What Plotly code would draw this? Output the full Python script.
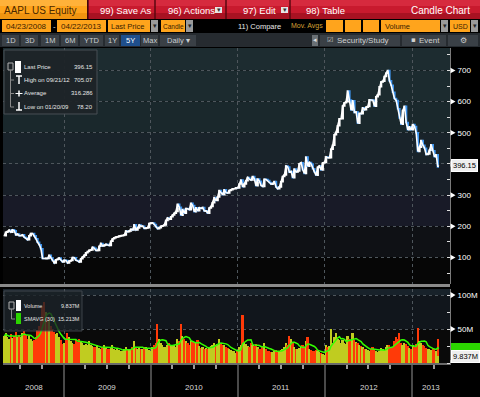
import pandas as pd
import plotly.graph_objects as go

W, H = 480, 397
HF = "Liberation Sans, Arial, sans-serif"

# ---------------- data (weekly closes) ----------------
close_2008 = [169.7, 180.9, 183.4, 187.6, 181.2, 188.8, 185.6, 172.4, 175.3, 170.1, 170.1, 172.6,
              165.2, 162.1, 156.7, 169.6, 176.8, 176.8, 169.5, 160.2, 148.9, 140.9, 128.2, 97.1,
              96.8, 97.4, 96.4, 107.6, 98.2, 90.2, 82.6, 92.7, 94.0, 98.3, 90.0, 85.8]
close_2009 = [90.8, 90.6, 82.3, 88.4, 90.1, 99.7, 99.2, 91.2, 89.3, 85.3, 95.9, 101.6, 106.9,
              115.0, 119.6, 123.4, 123.9, 132.5, 129.6, 122.4, 122.5, 135.8, 144.7, 137.0, 139.5,
              142.4, 140.0, 138.5, 151.8, 160.0, 163.4, 165.5, 166.8, 169.2, 170.1, 170.3, 172.2,
              185.0, 182.4, 184.9, 190.5, 188.1, 204.9, 188.5, 194.3, 204.5, 199.9, 200.6, 193.3,
              194.7, 195.4, 209.0, 210.7]
close_2010 = [211.0, 205.9, 197.9, 192.1, 195.5, 200.4, 201.7, 204.6, 219.0, 226.6, 222.3, 230.9,
              236.0, 241.8, 247.4, 270.8, 261.1, 235.9, 253.8, 242.3, 256.9, 256.0, 253.5, 274.1,
              266.7, 246.9, 259.6, 249.9, 259.9, 257.3, 260.1, 249.1, 249.6, 241.6, 258.8, 263.4,
              275.4, 292.3, 282.5, 294.1, 314.7, 307.5, 301.0, 317.1, 308.0, 306.7, 315.0, 317.4,
              320.6, 320.6, 323.6, 322.6]
close_2011 = [336.1, 348.5, 326.7, 336.1, 346.5, 356.9, 350.6, 348.2, 360.0, 352.0, 330.0, 351.5,
              344.6, 330.8, 327.5, 350.7, 350.1, 346.7, 340.5, 335.2, 337.4, 343.4, 325.9, 320.3,
              326.4, 343.3, 360.0, 364.9, 393.3, 390.5, 373.6, 376.2, 356.0, 383.6, 374.1, 377.5,
              400.5, 404.3, 381.3, 369.8, 422.0, 392.9, 405.0, 400.2, 384.6, 374.9, 363.6, 389.7,
              393.6, 381.0, 403.4, 405.0]
close_2012 = [422.4, 419.8, 420.3, 447.3, 459.7, 493.4, 502.1, 522.4, 545.2, 545.2, 585.6, 596.1,
              599.6, 633.7, 605.2, 573.0, 603.0, 565.3, 566.7, 530.4, 562.3, 561.0, 580.3, 574.1,
              582.1, 584.0, 605.9, 605.0, 604.3, 585.2, 615.7, 621.7, 648.1, 663.2, 665.2, 680.4,
              691.3, 700.1, 667.1, 652.6, 629.7, 609.8, 604.0, 576.8, 547.1, 527.7, 571.5, 585.3,
              533.3, 509.8, 519.3, 509.6]
close_2013 = [527.0, 520.3, 500.0, 439.9, 453.6, 475.0, 460.2, 450.8, 430.5, 431.7, 443.7, 461.9,
              442.7, 423.2, 429.8, 390.5]

# weekly average volume, millions
vol_2008 = [40, 44, 38, 36, 42, 37, 40, 46, 38, 41, 39, 44, 47, 41, 36, 40, 36, 32, 34, 38, 48, 55,
            62, 82, 90, 75, 68, 64, 55, 50, 46, 42, 44, 38, 34, 28]
vol_2009 = [30, 36, 44, 38, 33, 30, 28, 34, 31, 36, 32, 30, 27, 28, 26, 32, 27, 25, 24, 23, 26, 22,
            21, 24, 27, 22, 20, 21, 24, 26, 20, 19, 21, 19, 18, 17, 20, 23, 21, 20, 19, 24, 32, 24,
            21, 22, 20, 21, 23, 24, 20, 19, 18]
vol_2010 = [24, 26, 30, 58, 36, 30, 26, 24, 23, 27, 29, 25, 26, 27, 24, 36, 32, 58, 40, 36, 32, 30,
            27, 33, 31, 30, 29, 34, 25, 22, 24, 21, 22, 20, 24, 25, 27, 30, 26, 28, 36, 29, 26, 27,
            23, 22, 20, 19, 18, 17, 15, 17]
vol_2011 = [24, 27, 70, 30, 28, 25, 23, 29, 27, 25, 28, 24, 21, 20, 23, 30, 20, 18, 17, 16, 16, 17,
            19, 18, 17, 19, 20, 24, 29, 26, 40, 35, 30, 23, 21, 20, 22, 25, 26, 23, 33, 38, 21, 19,
            18, 17, 19, 18, 16, 15, 13, 12]
vol_2012 = [26, 24, 25, 50, 30, 38, 44, 36, 34, 30, 34, 30, 28, 40, 36, 32, 44, 34, 31, 29, 27, 25,
            23, 21, 20, 19, 18, 21, 24, 19, 17, 16, 18, 22, 20, 19, 24, 27, 26, 22, 24, 33, 38, 35,
            44, 30, 26, 30, 28, 25, 22, 21]
vol_2013 = [26, 24, 28, 52, 32, 30, 27, 25, 22, 21, 20, 19, 22, 20, 18, 36]

last_price = 396.15
last_volume = 9.837
last_smavg = 15.213
last_date = "2013-04-22"

price_ticks = [100, 200, 300, 400, 500, 600, 700]
price_tick_labels = ["100", "200", "300", "", "500", "600", "700"]   # 400 sits under the last-price box
volume_ticks = [0, 50, 100]
volume_tick_labels = ["", "50M", "100M"]                             # 0 sits under the last-volume box
year_labels = ["2008", "2009", "2010", "2011", "2012", "2013"]

price_legend = [("Last Price", "396.15"), ("High on 09/21/12", "705.07"),
                ("Average", "316.286"), ("Low on 01/20/09", "78.20")]
volume_legend = [("Volume", "9.837M"), ("SMAVG (30)", "15.213M")]

# ---------------- build series ----------------
close = close_2008 + close_2009 + close_2010 + close_2011 + close_2012 + close_2013
volume = vol_2008 + vol_2009 + vol_2010 + vol_2011 + vol_2012 + vol_2013
n = min(len(close), len(volume))
close, volume = close[:n], volume[:n]
dates = list(pd.date_range(end="2013-04-19", periods=n, freq="W-FRI"))
opens = [close[0]] + close[:-1]
highs = [max(o, c) for o, c in zip(opens, close)]
lows = [min(o, c) for o, c in zip(opens, close)]

dates_all = dates + [pd.Timestamp(last_date)]
close_all = close + [last_price]
vol_all = volume + [last_volume]
up_all = [True] + [close_all[i] >= close_all[i - 1] for i in range(1, len(close_all))]
vol_colors = ["#c0cc20" if u else "#ff3a08" for u in up_all]
smavg = pd.Series(vol_all).rolling(6, min_periods=1).mean().tolist()

x_start, x_end = pd.Timestamp("2008-04-20"), pd.Timestamp("2013-06-09")
year_starts = [pd.Timestamp(f"{y}-01-01") for y in range(2009, 2014)]

# ---------------- helpers ----------------
shapes, ann = [], []


def prect(x0, y0, x1, y1, fill, line=None, lw=0, opacity=1, layer="above"):
    shapes.append(dict(type="rect", xref="paper", yref="paper", x0=x0 / W, x1=x1 / W,
                       y0=1 - y1 / H, y1=1 - y0 / H, fillcolor=fill, opacity=opacity, layer=layer,
                       line=dict(color=line or fill, width=lw)))


def pline(x0, y0, x1, y1, color, lw=1):
    shapes.append(dict(type="line", xref="paper", yref="paper", x0=x0 / W, x1=x1 / W,
                       y0=1 - y0 / H, y1=1 - y1 / H, line=dict(color=color, width=lw), layer="above"))


def ptext(x, y, s, size=9, color="#ffffff", anchor="left", family=HF):
    ann.append(dict(xref="paper", yref="paper", x=x / W, y=1 - y / H, text=s, showarrow=False,
                    xanchor=anchor, yanchor="middle", borderpad=0,
                    font=dict(size=size, color=color, family=family)))


def band(yref, y0, y1, color):
    shapes.append(dict(type="rect", xref=yref.replace("y", "x") + " domain", yref=yref,
                       x0=0, x1=1, y0=y0, y1=y1, fillcolor=color, line=dict(width=0), layer="below"))


def axis_marker(yref, value, half):
    # small white pointer on the right axis at a labelled tick
    shapes.append(dict(type="path", xref="paper", yref=yref,
                       path=f"M {450.5 / W},{value - half} L {455.5 / W},{value} L {450.5 / W},{value + half} Z",
                       fillcolor="#ffffff", line=dict(width=0), layer="above"))


# background bands
for y0, y1, c in [(700, 772, "#1d2c30"), (600, 700, "#1c2b2f"), (500, 600, "#1a282c"),
                  (400, 500, "#19232a"), (300, 400, "#181f28"), (200, 300, "#181a27"),
                  (100, 200, "#0f1115"), (0, 100, "#060606")]:
    band("y", y0, y1, c)
for y0, y1, c in [(100, 120, "#18222a"), (50, 100, "#11161c"), (-5, 50, "#0a0a0a")]:
    band("y2", y0, y1, c)

# ---------------- header ----------------
ORANGE, DARK = "#ffa41c", "#3b2200"
prect(0, 0, 87, 19, ORANGE)
prect(0, 0, 87, 6, "#ffb23a")
prect(0, 13, 87, 19, "#f09410")
ptext(3, 10, "AAPL US Equity", 10, "#4a2800")
prect(88, 0, 480, 19, "#c81a2e")
prect(88, 0, 480, 6, "#d62a3e")
prect(88, 13, 480, 19, "#a81222")
for xs in [88, 155, 226, 290]:
    pline(xs, 0, xs, 19, "#5a0810", 1.5)
ptext(99, 10, "99) Save As", 9.5)
ptext(167, 10, "96) Actions", 9.5)
prect(215, 7, 222, 13, "#e6e6e6")
ptext(218.5, 10, "▾", 7, "#333333", "center", "DejaVu Sans")
ptext(242, 10, "97) Edit", 9.5)
prect(281, 7, 288, 13, "#e6e6e6")
ptext(284.5, 10, "▾", 7, "#333333", "center", "DejaVu Sans")
ptext(305, 10, "98) Table", 9.5)
ptext(471, 10, "Candle Chart", 10, anchor="right")

prect(0, 19, 480, 33, "#000000")
prect(2, 20, 51, 32, ORANGE)
ptext(26.5, 26, "04/23/2008", 8, DARK, "center")
ptext(54, 26, "-", 8, "#dddddd", "center")
prect(57, 20, 106, 32, ORANGE)
ptext(81.5, 26, "04/22/2013", 8, DARK, "center")
prect(108, 20, 150, 32, ORANGE)
ptext(110, 26, "Last Price", 7.5, DARK)
prect(161, 20, 185, 32, ORANGE)
ptext(162, 26, "Candle", 6.5, DARK)
ptext(237, 26, "11) Compare", 7.5, "#e8e8e8")
ptext(290, 26, "Mov. Avgs", 7, "#d4a034")
for a, b in [(326, 343), (345, 361), (363, 379)]:
    prect(a, 20, b, 32, ORANGE)
prect(381, 20, 440, 32, ORANGE)
ptext(384, 26, "Volume", 7.5, DARK)
prect(450, 20, 470, 32, ORANGE)
ptext(451.5, 26, "USD", 7, DARK)
for a in [151, 186, 441, 471]:
    prect(a, 20, a + 7, 32, "#9a9a9a")
    ptext(a + 3.5, 26, "▾", 7, "#222222", "center", "DejaVu Sans")

prect(0, 33, 480, 47, "#262b30")
for a, b, lab in [(2, 19, "1D"), (21, 38, "3D"), (41, 59, "1M"), (61, 78, "6M"), (80, 103, "YTD"),
                  (105, 119, "1Y"), (121, 140, "5Y"), (141, 158, "Max"), (160, 196, "Daily ▾")]:
    sel = lab == "5Y"
    prect(a, 35, b, 46, "#1f4f8c" if sel else "#3a4046")
    ptext((a + b) / 2, 40.5, lab, 7.5, "#ffffff" if sel else "#c9ced2", "center")
prect(312, 35, 318, 46, "#6a7075")
ptext(315, 40.5, "◂", 7, "#dddddd", "center", "DejaVu Sans")
prect(320, 35, 400, 46, "#3a4046")
ptext(326, 40.5, "☑", 7, "#d0d0d0", "left", "DejaVu Sans")
ptext(336, 40.5, "Security/Study", 8, "#d0d0d0")
prect(402, 35, 446, 46, "#3a4046")
ptext(410, 40.5, "▪", 7, "#d0d0d0", "left", "DejaVu Sans")
ptext(418, 40.5, "Event", 8, "#d0d0d0")
prect(448, 35, 478, 46, "#3a4046")
ptext(463, 40.5, "⚙", 8, "#d0d0d0", "center", "DejaVu Sans")

# panel separator
prect(0, 284, 450, 287, "#8a8a8a")

# ---------------- legends ----------------
prect(4, 50, 97, 114, "#1e2428", "#4a5156", 1, opacity=0.95)
rows_y = [67, 80, 93.5, 107]
prect(8, 63, 13, 70, "#1e2428", "#b0b0b0", 1)
prect(15, 61, 21, 73, "#ffffff")
pline(10.5, 70, 10.5, 107, "#8a8a8a")
for yy in rows_y[1:]:
    pline(10.5, yy, 14, yy, "#8a8a8a")
pline(16, 76, 22, 76, "#ffffff", 1.5)
pline(19, 76, 19, 84, "#ffffff", 1.5)
pline(15.5, 93.5, 22.5, 93.5, "#ffffff", 1)
pline(19, 90.5, 19, 96.5, "#ffffff", 1.5)
pline(19, 102, 19, 110, "#ffffff", 1.5)
pline(16, 110, 22, 110, "#ffffff", 1.5)
for (lab, val), yy in zip(price_legend, rows_y):
    ptext(23, yy, lab, 6, "#e6e6e6")
    ptext(94, yy, val, 6, "#e6e6e6", "right")

prect(4, 291, 82, 331, "#1a2126", "#4a5156", 1, opacity=0.78)
prect(9, 302, 14, 309, "#1a2126", "#b0b0b0", 1)
prect(16, 300, 21, 311, "#ffffff")
prect(16, 313, 21, 324, "#2bd400")
pline(11.5, 309, 11.5, 319, "#8a8a8a")
pline(11.5, 319, 15, 319, "#8a8a8a")
for (lab, val), yy in zip(volume_legend, [305.5, 319]):
    ptext(23, yy, lab, 5.5, "#e6e6e6")
    ptext(80.5, yy, val, 5.5, "#e6e6e6", "right")

# ---------------- right-side markers and value boxes ----------------
for v in price_ticks:
    axis_marker("y", v, 9)
for v in volume_ticks:
    axis_marker("y2", v, 4.5)

# SMAVG last-value tag, mostly hidden behind the volume tag
prect(451, 343, 480, 352, "#2bd400")

box = dict(xref="paper", x=451 / W, showarrow=False, xanchor="left", yanchor="middle", borderpad=1)
ann.append(dict(box, yref="y", y=last_price, text="396.15", bgcolor="#eeeeee", bordercolor="#ffffff",
                font=dict(size=7.5, color="#000000", family=HF)))
ann.append(dict(box, yref="y2", y=last_volume, text="9.837M", bgcolor="#eeeeee", bordercolor="#ffffff",
                font=dict(size=7.5, color="#000000", family=HF)))

# year labels
centers = [x_start + (year_starts[0] - x_start) / 2]
centers += [pd.Timestamp(f"{y}-07-02") for y in range(2009, 2013)]
centers += [year_starts[-1] + (x_end - year_starts[-1]) / 2]
for c, lab in zip(centers, year_labels):
    ann.append(dict(xref="x2", yref="paper", x=c, y=1 - 387 / H, text=lab, showarrow=False,
                    xanchor="center", yanchor="middle", font=dict(size=8, color="#d8d8d8", family=HF)))

# ---------------- traces ----------------
line_tr = go.Scatter(x=dates_all, y=close_all, mode="lines", line=dict(color="#ffffff", width=1.6),
                     xaxis="x", yaxis="y", hoverinfo="skip")
candle = go.Candlestick(x=dates, open=opens, high=highs, low=lows, close=close,
                        increasing=dict(line=dict(color="#ffffff", width=1.5), fillcolor="#ffffff"),
                        decreasing=dict(line=dict(color="#3f95ee", width=1.5), fillcolor="#3f95ee"),
                        whiskerwidth=0, xaxis="x", yaxis="y", hoverinfo="skip")
bars = go.Bar(x=dates_all, y=vol_all, marker=dict(color=vol_colors, line=dict(width=0)),
              width=7 * 86400000, xaxis="x2", yaxis="y2", hoverinfo="skip")
sma = go.Scatter(x=dates_all, y=smavg, mode="lines", line=dict(color="#33ff00", width=1.5),
                 xaxis="x2", yaxis="y2", hoverinfo="skip")

grid = dict(showgrid=True, gridcolor="#4e565c", griddash="dot", gridwidth=1, zeroline=False)
xdom = [3 / W, 450 / W]
tickstyle = dict(ticks="outside", ticklen=5, tickcolor="rgba(0,0,0,0)",
                 tickfont=dict(size=8, color="#ffffff", family=HF))

fig = go.Figure(data=[line_tr, candle, bars, sma])
fig.update_layout(
    width=W, height=H, margin=dict(l=0, r=0, t=0, b=0),
    paper_bgcolor="#000000", plot_bgcolor="#000000", showlegend=False, hovermode=False,
    bargap=0,
    xaxis=dict(domain=xdom, anchor="y", type="date", range=[x_start, x_end],
               rangeslider=dict(visible=False), tickmode="array", tickvals=year_starts,
               showticklabels=False, ticks="", showline=False, **grid),
    yaxis=dict(domain=[1 - 284 / H, 1 - 48 / H], anchor="x", side="right", range=[15, 772],
               tickmode="array", tickvals=price_ticks, ticktext=price_tick_labels,
               showline=True, linecolor="#7a7a7a", linewidth=1,
               minor=dict(tickmode="linear", tick0=0, dtick=50, ticks="inside", ticklen=3,
                          tickcolor="#dddddd", showgrid=False),
               **tickstyle, **grid),
    xaxis2=dict(domain=xdom, anchor="y2", type="date", matches="x", range=[x_start, x_end],
                tickmode="array", tickvals=year_starts, showticklabels=False,
                ticks="outside", ticklen=33, tickcolor="#4a4a4a", tickwidth=1.5,
                showline=True, linecolor="#6a6a6a", linewidth=2,
                minor=dict(tickmode="array",
                           tickvals=list(pd.date_range("2008-07-01", "2013-04-01", freq="QS")),
                           ticks="outside", ticklen=4, tickcolor="#9a9a9a", showgrid=False),
                **grid),
    yaxis2=dict(domain=[1 - 363 / H, 1 - 289 / H], anchor="x2", side="right", range=[0, 109],
                tickmode="array", tickvals=volume_ticks, ticktext=volume_tick_labels,
                showline=True, linecolor="#7a7a7a", linewidth=1,
                minor=dict(tickmode="linear", tick0=0, dtick=25, ticks="inside", ticklen=3,
                           tickcolor="#dddddd", showgrid=False),
                **tickstyle, **grid),
    shapes=shapes, annotations=ann,
)
fig.write_html("out.html", config={"displayModeBar": False},
               post_script="document.body.style.margin='0';document.body.style.background='#000';")
